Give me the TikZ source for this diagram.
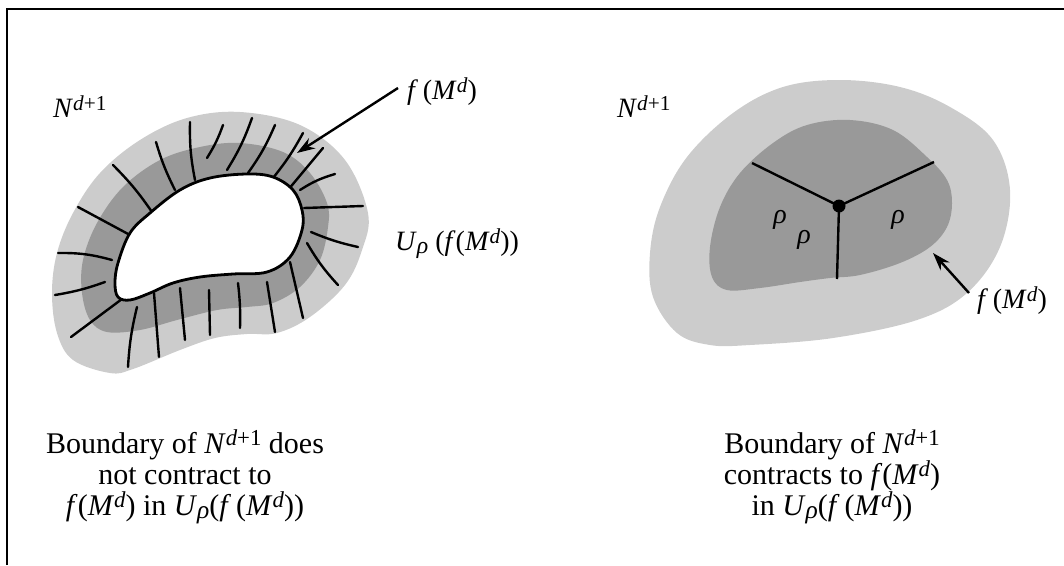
\documentclass[tikz,border=0pt]{standalone}
\usepackage{fontspec}
\setmainfont{Liberation Serif}
\usetikzlibrary{arrows.meta}
\definecolor{lightband}{gray}{0.80}
\definecolor{darkband}{gray}{0.60}
\makeatletter
\newcommand{\upsc}[1]{\raisebox{0.24em}{\fontsize{\fpeval{0.76*\f@size}}{0}\selectfont #1}}
\newcommand{\dnsc}[1]{\raisebox{-0.12em}{\fontsize{\fpeval{0.85*\f@size}}{0}\selectfont #1}}
\makeatother
\newcommand{\Nd}{\textit{N}\upsc{\textit{d}+1}}
\newcommand{\fM}{\textit{f}\,(\textit{M}\upsc{\textit{d}})}
\newcommand{\fMt}{\textit{f}(\textit{M}\upsc{\textit{d}})}
\newcommand{\Urho}{\textit{U}\dnsc{\textit{ρ}}}
\begin{document}
\begin{tikzpicture}[x=1pt,y=-1pt,
  lbl/.style={font=\fontsize{28}{31}\selectfont, inner sep=0pt},
  captxt/.style={font=\fontsize{30}{31}\selectfont, align=center, inner sep=0pt},
  hair/.style={line width=2.4pt, line cap=round},
  arr/.style={line width=2.4pt, -{Stealth[length=18pt,width=12pt]}},
  outline/.style={line width=2.8pt}]
\useasboundingbox (0,0) rectangle (1064,565);
\draw[line width=2pt] (7,565) -- (7,9) -- (1064,9);

% ---------- left figure ----------
\fill[lightband] plot[smooth cycle, tension=0.6] coordinates {
 (240,112) (300,125) (345,160) (368,213) (362,250) (345,285) (310,317) (277,333)
 (247,334) (215,338) (180,350) (133,369) (110,373) (73,360) (57,333) (52,293)
 (57,253) (73,213) (100,173) (140,140) (187,118)};
\fill[darkband] plot[smooth cycle, tension=0.6] coordinates {
 (240,143) (283,152) (310,173) (327,203) (328,227) (320,260) (300,287) (273,303)
 (247,307) (217,310) (177,320) (140,330) (107,332) (90,320) (82,293) (83,260)
 (97,223) (123,187) (160,160) (200,147)};

% hair lines
\draw[hair] (190,122) to[bend right=6] (195,180);
\draw[hair] (223,125) to[bend left=6] (207,158);
\draw[hair] (252,118) to[bend left=6] (227,170);
\draw[hair] (275,125) to[bend left=6] (248,173);
\draw[hair] (303,133) to[bend left=5] (273,178);
\draw[hair] (323,148) -- (288,190);
\draw[hair] (335,174) to[bend right=8] (300,190);
\draw[hair] (363,206) -- (304,208);
\draw[hair] (358,247) to[bend left=5] (311,232);
\draw[hair] (338,285) to[bend left=6] (307,243);
\draw[hair] (303,318) -- (290,262);
\draw[hair] (275,332) -- (267,282);
\draw[hair] (240,328) to[bend right=4] (238,283);
\draw[hair] (210,335) -- (209,290);
\draw[hair] (185,340) -- (180,288);
\draw[hair] (159,357) -- (154,293);
\draw[hair] (128,367) to[bend left=5] (137,307);
\draw[hair] (71,337) -- (122,299);
\draw[hair] (55,295) to[bend right=5] (105,282);
\draw[hair] (58,253) to[bend left=8] (112,260);
\draw[hair] (78,207) -- (130,235);
\draw[hair] (113,165) to[bend left=5] (152,212);
\draw[hair] (156,142) to[bend right=5] (175,190);

\filldraw[fill=white, outline] plot[smooth cycle, tension=0.6] coordinates {
 (247,174) (273,177) (293,190) (302,210) (302,230) (290,257) (267,272) (233,274)
 (200,277) (173,283) (150,293) (130,300) (118,297) (115,283) (118,263) (130,233)
 (150,213) (180,190) (210,178)};

\node[lbl, anchor=base west] (nl) at (53,117) {\Nd};
\node[lbl, anchor=base west] (fl) at (407,99) {\fM};
\node[lbl, anchor=base west] (ul) at (395,250) {\Urho\ (\fMt)};
\coordinate (fls) at (398,88);
\coordinate (flt) at (297,153);
\draw[arr] (fls) -- (flt);

% ---------- right figure ----------
\fill[lightband] plot[smooth cycle, tension=0.6] coordinates {
 (840,80) (900,87) (950,107) (993,140) (1010,190) (1000,247) (967,293) (917,320)
 (833,338) (750,345) (710,345) (677,333) (653,297) (650,253) (660,207) (687,157)
 (733,113) (783,87)};
\fill[darkband] plot[smooth cycle, tension=0.6] coordinates {
 (850,120) (893,130) (927,157) (947,180) (952,203) (947,227) (930,247) (900,263)
 (860,275) (830,278) (800,282) (760,288) (727,290) (712,277) (710,247) (720,207)
 (740,173) (773,143) (807,125)};
\coordinate (c) at (839,206);
\coordinate (e1) at (752,163);
\coordinate (e2) at (934,162);
\coordinate (e3) at (837,279);
\draw[hair, line cap=butt] (c) -- (e1);
\draw[hair, line cap=butt] (c) -- (e2);
\draw[hair, line cap=butt] (c) -- (e3);
\fill (c) circle (6.5);
\node[lbl] (r1) at (780,220) {\textit{ρ}};
\node[lbl] (r2) at (804,240) {\textit{ρ}};
\node[lbl] (r3) at (898,220) {\textit{ρ}};

\node[lbl, anchor=base west] (nr) at (617,117) {\Nd};
\node[lbl, anchor=base west] (fr) at (977,308) {\fM};
\coordinate (frs) at (969,293);
\coordinate (frt) at (933,253);
\draw[arr] (frs) -- (frt);

% ---------- captions ----------
\node[captxt] (capl) at (185,477) {Boundary of \Nd\ does\\not contract to\\\fMt\ in \Urho(\fM)};
\node[captxt] (capr) at (832,477) {Boundary of \Nd\\contracts to \fMt\\in \Urho(\fM)};
\end{tikzpicture}
\end{document}
